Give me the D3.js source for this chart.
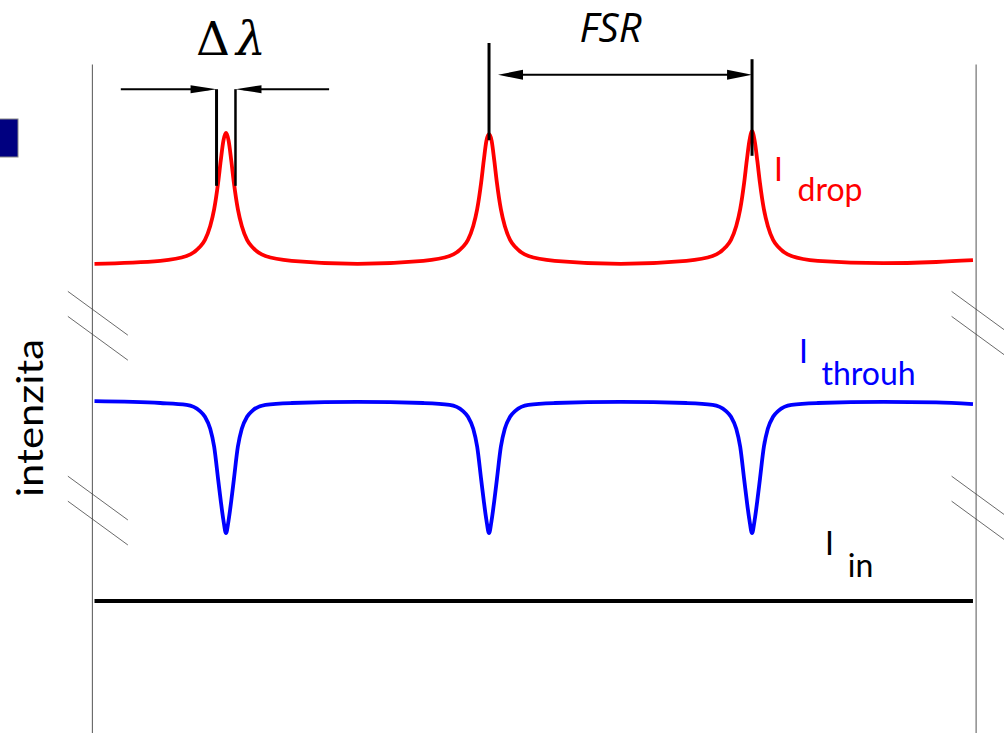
<!DOCTYPE html>
<html>
<head>
<meta charset="utf-8">
<script src="https://cdn.jsdelivr.net/npm/d3@7"></script>
<style>
  html, body { margin: 0; padding: 0; background: #fff; }
  svg { display: block; }
</style>
</head>
<body>
<svg id="chart" width="1004" height="733"></svg>
<script>
// resonance positions (arbitrary wavelength units, FSR = 10)
const peakLambda = [5, 15, 25];

// drop port intensity
const dropCurve = [
  [0, 7.82], [2.5, 7.87], [3.5, 7.95], [4, 8.10], [4.2, 8.22], [4.4, 8.45], [4.55, 8.73], [4.7, 9.17], [4.8, 9.54], [4.9, 9.87],
  [5, 10.0], [5.1, 9.87], [5.2, 9.54], [5.3, 9.17], [5.45, 8.73], [5.6, 8.45], [5.8, 8.22], [6, 8.10], [6.5, 7.95], [7.5, 7.87],
  [10, 7.82], [12.5, 7.87], [13.5, 7.95], [14, 8.10], [14.2, 8.22], [14.4, 8.45], [14.55, 8.73], [14.7, 9.17], [14.8, 9.54], [14.9, 9.87],
  [15, 9.98], [15.1, 9.87], [15.2, 9.54], [15.3, 9.17], [15.45, 8.73], [15.6, 8.45], [15.8, 8.22], [16, 8.10], [16.5, 7.95], [17.5, 7.87],
  [20, 7.82], [22.5, 7.87], [23.5, 7.95], [24, 8.10], [24.2, 8.22], [24.4, 8.45], [24.55, 8.73], [24.7, 9.17], [24.8, 9.54], [24.9, 9.87],
  [25, 10.03], [25.1, 9.87], [25.2, 9.54], [25.3, 9.17], [25.45, 8.73], [25.6, 8.45], [25.8, 8.22], [26, 8.10], [26.5, 7.95], [27.5, 7.87],
  [30, 7.83], [32, 7.85], [33.4, 7.88]
];

// through port intensity
const throughCurve = [
  [0, 5.53], [2.5, 5.50], [3.5, 5.47], [4, 5.37], [4.2, 5.27], [4.4, 5.07], [4.55, 4.77], [4.7, 4.23], [4.8, 3.87], [4.9, 3.55],
  [5, 3.33], [5.1, 3.55], [5.2, 3.87], [5.3, 4.23], [5.45, 4.77], [5.6, 5.07], [5.8, 5.27], [6, 5.37], [6.5, 5.47], [7.5, 5.50],
  [10, 5.52], [12.5, 5.50], [13.5, 5.47], [14, 5.37], [14.2, 5.27], [14.4, 5.07], [14.55, 4.77], [14.7, 4.23], [14.8, 3.87], [14.9, 3.55],
  [15, 3.33], [15.1, 3.55], [15.2, 3.87], [15.3, 4.23], [15.45, 4.77], [15.6, 5.07], [15.8, 5.27], [16, 5.37], [16.5, 5.47], [17.5, 5.50],
  [20, 5.52], [22.5, 5.50], [23.5, 5.47], [24, 5.37], [24.2, 5.27], [24.4, 5.07], [24.55, 4.77], [24.7, 4.23], [24.8, 3.87], [24.9, 3.55],
  [25, 3.33], [25.1, 3.55], [25.2, 3.87], [25.3, 4.23], [25.45, 4.77], [25.6, 5.07], [25.8, 5.27], [26, 5.37], [26.5, 5.47], [27.5, 5.50],
  [30, 5.52], [32, 5.51], [33.4, 5.48]
];

// input intensity (flat)
const inCurve = [[0, 2.2], [33.4, 2.2]];

// full width of a resonance
const deltaLambda = 0.72;

const svg = d3.select("#chart");

const x = d3.scaleLinear().domain([0, 33.5]).range([94.5, 975.6]);
const y = d3.scaleLinear().domain([0, 11.15]).range([733, 64]);

const line = d3.line()
  .x(d => x(d[0]))
  .y(d => y(d[1]))
  .curve(d3.curveMonotoneX);

// side axes, no ticks
const bare = a => a.tickValues([]).tickSizeOuter(0);
[[-0.1, d3.axisLeft], [33.5, d3.axisRight]].forEach(([lam, ax]) => {
  svg.append("g")
    .attr("transform", `translate(${x(lam)},0)`)
    .call(bare(ax(y)))
    .call(g => g.select(".domain").attr("stroke", "#555").attr("stroke-width", 1));
});

// axis break marks
[6.86, 3.78].forEach(lv => {
  [-0.1, 33.5].forEach(lam => {
    const cx = x(lam), cy = y(lv);
    [-12.5, 12.5].forEach(off => {
      svg.append("line")
        .attr("x1", cx - 24).attr("y1", cy + off - 24 * 0.73)
        .attr("x2", cx + 36).attr("y2", cy + off + 36 * 0.73)
        .attr("stroke", "#444").attr("stroke-width", 0.8);
    });
  });
});

// curves
svg.append("path").datum(dropCurve)
  .attr("d", line).attr("fill", "none").attr("stroke", "#ff0000").attr("stroke-width", 3.8);
svg.append("path").datum(throughCurve)
  .attr("d", line).attr("fill", "none").attr("stroke", "#0000ff").attr("stroke-width", 3.8);
svg.append("path").datum(inCurve)
  .attr("d", line).attr("fill", "none").attr("stroke", "#000").attr("stroke-width", 3.8);

// labels
function label(tx, ty, main, sub, subDx, subDy, color) {
  const t = svg.append("text")
    .attr("x", tx).attr("y", ty)
    .attr("font-family", "Lato, 'Open Sans', sans-serif")
    .attr("font-size", 32)
    .attr("fill", color);
  t.append("tspan").text(main);
  t.append("tspan").attr("dx", subDx).attr("dy", subDy).text(sub);
}
label(774, 181, "I", "drop", 15, 20, "#ff0000");
label(799, 363, "I", "throuh", 14, 22, "#0000ff");
label(825, 555, "I", "in", 14, 22, "#000");

svg.append("text")
  .attr("transform", "translate(43,418) rotate(-90)")
  .attr("text-anchor", "middle")
  .attr("font-family", "Lato, 'Open Sans', sans-serif")
  .attr("font-size", 36)
  .attr("textLength", 158)
  .attr("lengthAdjust", "spacingAndGlyphs")
  .text("intenzita");

// small navy box at the left edge
svg.append("rect")
  .attr("x", -1).attr("y", 119).attr("width", 19).attr("height", 38)
  .attr("fill", "#000080").attr("stroke", "#888").attr("stroke-width", 1);

// arrow helpers
function head(tipX, yy, dir, len, half) {
  svg.append("path")
    .attr("d", `M${tipX},${yy} L${tipX - dir * len},${yy - half} L${tipX - dir * len},${yy + half} Z`)
    .attr("fill", "#000");
}
function hline(x1, x2, yy) {
  svg.append("line").attr("x1", x1).attr("x2", x2).attr("y1", yy).attr("y2", yy)
    .attr("stroke", "#000").attr("stroke-width", 2);
}
function vline(xx, y1, y2, w) {
  svg.append("line").attr("x1", xx).attr("x2", xx).attr("y1", y1).attr("y2", y2)
    .attr("stroke", "#000").attr("stroke-width", w);
}

// delta lambda marker around the first resonance
const p0 = peakLambda[0];
const bl = x(p0 - deltaLambda / 2), br = x(p0 + deltaLambda / 2);
vline(bl, y(10.73), y(9.12), 3);
vline(br, y(10.73), y(9.12), 2.5);
hline(x(1.0), bl - 8, y(10.73));
head(bl, y(10.73), 1, 26, 4);
hline(br + 8, x(8.92), y(10.73));
head(br, y(10.73), -1, 26, 4);

const dl = svg.append("text")
  .attr("x", 196).attr("y", 55)
  .attr("font-family", "'DejaVu Serif', serif")
  .attr("font-size", 47)
  .attr("fill", "#000");
dl.append("tspan").text("Δ");
dl.append("tspan").attr("dx", 6).attr("font-style", "italic").text("λ");

// FSR marker between second and third resonance
const f1 = x(peakLambda[1]), f2 = x(peakLambda[2]);
vline(f1, y(11.5), y(9.88), 3);
vline(f2, y(11.23), y(9.62), 3);
hline(f1 + 20, f2 - 20, y(10.97));
head(f1 + 9, y(10.97), -1, 25, 5);
head(f2, y(10.97), 1, 25, 5);

svg.append("text")
  .attr("x", (f1 + f2) / 2 - 10).attr("y", 42)
  .attr("text-anchor", "middle")
  .attr("font-family", "'Open Sans', sans-serif")
  .attr("font-style", "italic")
  .attr("font-size", 40)
  .attr("fill", "#000")
  .text("FSR");
</script>
</body>
</html>
